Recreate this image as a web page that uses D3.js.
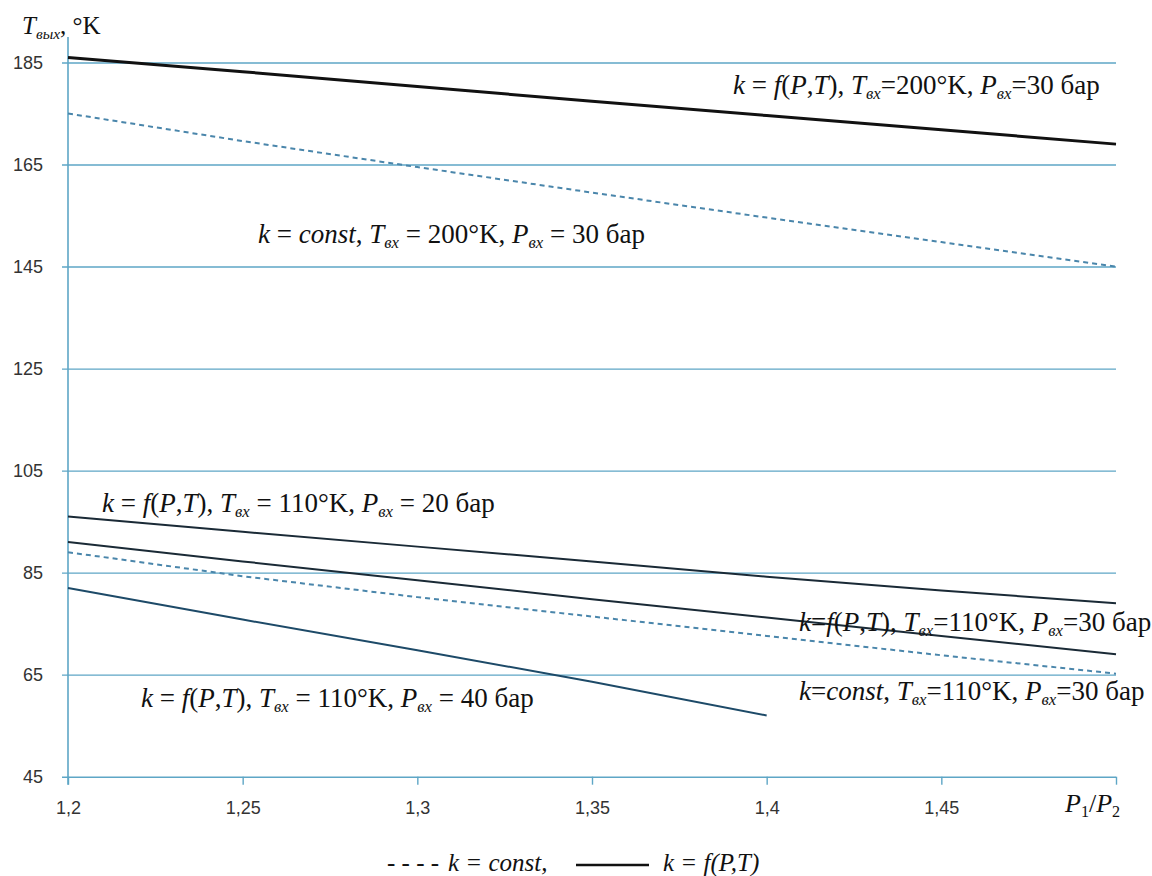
<!DOCTYPE html>
<html>
<head>
<meta charset="utf-8">
<script src="https://cdn.jsdelivr.net/npm/d3@7"></script>
<style>
  body { margin: 0; background: #fff; }
</style>
</head>
<body>
<script>
// P1/P2 ratio and outlet temperatures
const ratio = [1.2, 1.25, 1.3, 1.35, 1.4, 1.45, 1.5];
const tFpt200 = [186, 183.2, 180.3, 177.4, 174.6, 171.8, 169];
const tConst200 = [175, 169.6, 164.5, 159.5, 154.6, 149.8, 145];
const tFpt110p20 = [96, 93.0, 90.1, 87.2, 84.2, 81.5, 79];
const tFpt110p30 = [91, 87.2, 83.5, 79.8, 76.2, 72.6, 69];
const tConst110 = [89, 84.3, 80.2, 76.4, 72.6, 68.8, 65.2];
const tFpt110p40 = [82, 75.8, 69.8, 63.6, 57];

const yTicks = [45, 65, 85, 105, 125, 145, 165, 185];
const xTicks = [1.2, 1.25, 1.3, 1.35, 1.4, 1.45, 1.5];

const series = [
  { values: tFpt200, color: '#111', width: 3, dash: null },
  { values: tConst200, color: '#4a86ab', width: 2, dash: '5,4' },
  { values: tFpt110p20, color: '#1a2a36', width: 2, dash: null },
  { values: tFpt110p30, color: '#1a2a36', width: 2, dash: null },
  { values: tConst110, color: '#4a86ab', width: 2, dash: '5,4' },
  { values: tFpt110p40, color: '#1d4a68', width: 2, dash: null }
];

// *italic*  _italic subscript_  ~upright subscript~
const notes = [
  { x: 733, y: 94, s: '*k* = *f*(*P*,*T*), *T*_вх_=200°K, *P*_вх_=30 бар' },
  { x: 258, y: 243, s: '*k* = *const*, *T*_вх_ = 200°K, *P*_вх_ = 30 бар' },
  { x: 102, y: 512, s: '*k* = *f*(*P*,*T*), *T*_вх_ = 110°K, *P*_вх_ = 20 бар' },
  { x: 799, y: 631, s: '*k*=*f*(*P*,*T*), *T*_вх_=110°K, *P*_вх_=30 бар' },
  { x: 799, y: 700, s: '*k*=*const*, *T*_вх_=110°K, *P*_вх_=30 бар' },
  { x: 141, y: 707, s: '*k* = *f*(*P*,*T*), *T*_вх_ = 110°K, *P*_вх_ = 40 бар' }
];

const width = 1152;
const height = 876;
const gridColor = '#5ea6c6';
const serif = '"Liberation Serif", "Times New Roman", serif';

const svg = d3.select('body')
  .append('svg')
    .attr('width', width)
    .attr('height', height);

const x = d3.scaleLinear().domain([1.2, 1.5]).range([68, 1116]);
const y = d3.scaleLinear().domain([45, 185]).range([776.7, 62.5]);

// horizontal grid + y labels
const yAxis = svg.append('g')
  .attr('transform', 'translate(62,0)')
  .call(d3.axisLeft(y)
    .tickValues(yTicks)
    .tickSize(-(x.range()[1] - 62))
    .tickPadding(19));
yAxis.select('.domain').remove();
yAxis.selectAll('.tick line')
  .attr('stroke', gridColor)
  .attr('stroke-width', 1.4);
yAxis.selectAll('.tick text')
  .attr('font-family', '"Liberation Sans", Arial, sans-serif')
  .attr('font-size', 18)
  .attr('fill', '#333');

// x axis ticks + labels
const xAxis = svg.append('g')
  .attr('transform', `translate(0,${y(45)})`)
  .call(d3.axisBottom(x)
    .tickValues(xTicks)
    .tickSize(8)
    .tickPadding(17)
    .tickFormat(d => d === 1.5 ? '' : String(d).replace('.', ',')));
xAxis.select('.domain').remove();
xAxis.selectAll('.tick line')
  .attr('stroke', gridColor)
  .attr('stroke-width', 1.4);
xAxis.selectAll('.tick text')
  .attr('font-family', '"Liberation Sans", Arial, sans-serif')
  .attr('font-size', 18)
  .attr('fill', '#333');

// vertical axis line
svg.append('line')
  .attr('x1', x(1.2)).attr('x2', x(1.2))
  .attr('y1', y(190)).attr('y2', y(45) + 8)
  .attr('stroke', gridColor)
  .attr('stroke-width', 1.6);

// data lines
const line = d3.line()
  .x((d, i) => x(ratio[i]))
  .y(d => y(d));

svg.append('g')
  .selectAll('path')
  .data(series)
  .join('path')
    .attr('d', d => line(d.values))
    .attr('fill', 'none')
    .attr('stroke', d => d.color)
    .attr('stroke-width', d => d.width)
    .attr('stroke-dasharray', d => d.dash);

function rich(sel, px, py, str, size) {
  const t = sel.append('text')
    .attr('x', px)
    .attr('y', py)
    .attr('font-family', serif)
    .attr('font-size', size)
    .attr('fill', '#111');
  const shift = Math.round(size * 0.2);
  let down = 0;
  str.split(/(\*[^*]+\*|_[^_]+_|~[^~]+~)/).filter(s => s).forEach(s => {
    const ts = t.append('tspan');
    const mark = s[0];
    if (mark === '*' || mark === '_' || mark === '~') s = s.slice(1, -1);
    ts.text(s);
    if (mark === '*' || mark === '_') ts.attr('font-style', 'italic');
    if (mark === '_' || mark === '~') {
      ts.attr('font-size', size * 0.62);
      if (!down) { ts.attr('dy', shift); down = shift; }
    } else if (down) {
      ts.attr('dy', -down);
      down = 0;
    }
  });
  return t;
}

const noteG = svg.append('g');
notes.forEach(n => rich(noteG, n.x, n.y, n.s, 27));

// axis titles
rich(svg, 22, 34, '*T*_вых_, °K', 25);
rich(svg, 1065, 812, '*P*~1~/*P*~2~', 26);

// legend
const legend = svg.append('g')
  .attr('font-family', serif)
  .attr('font-size', 25)
  .attr('font-style', 'italic')
  .attr('fill', '#111');
legend.append('text')
  .attr('x', 387).attr('y', 871)
  .text('- - - -');
legend.append('text')
  .attr('x', 448).attr('y', 871)
  .text('k = const,');
legend.append('line')
  .attr('x1', 576).attr('x2', 649)
  .attr('y1', 865).attr('y2', 865)
  .attr('stroke', '#111')
  .attr('stroke-width', 2.5);
legend.append('text')
  .attr('x', 663).attr('y', 871)
  .text('k = f(P,T)');
</script>
</body>
</html>
